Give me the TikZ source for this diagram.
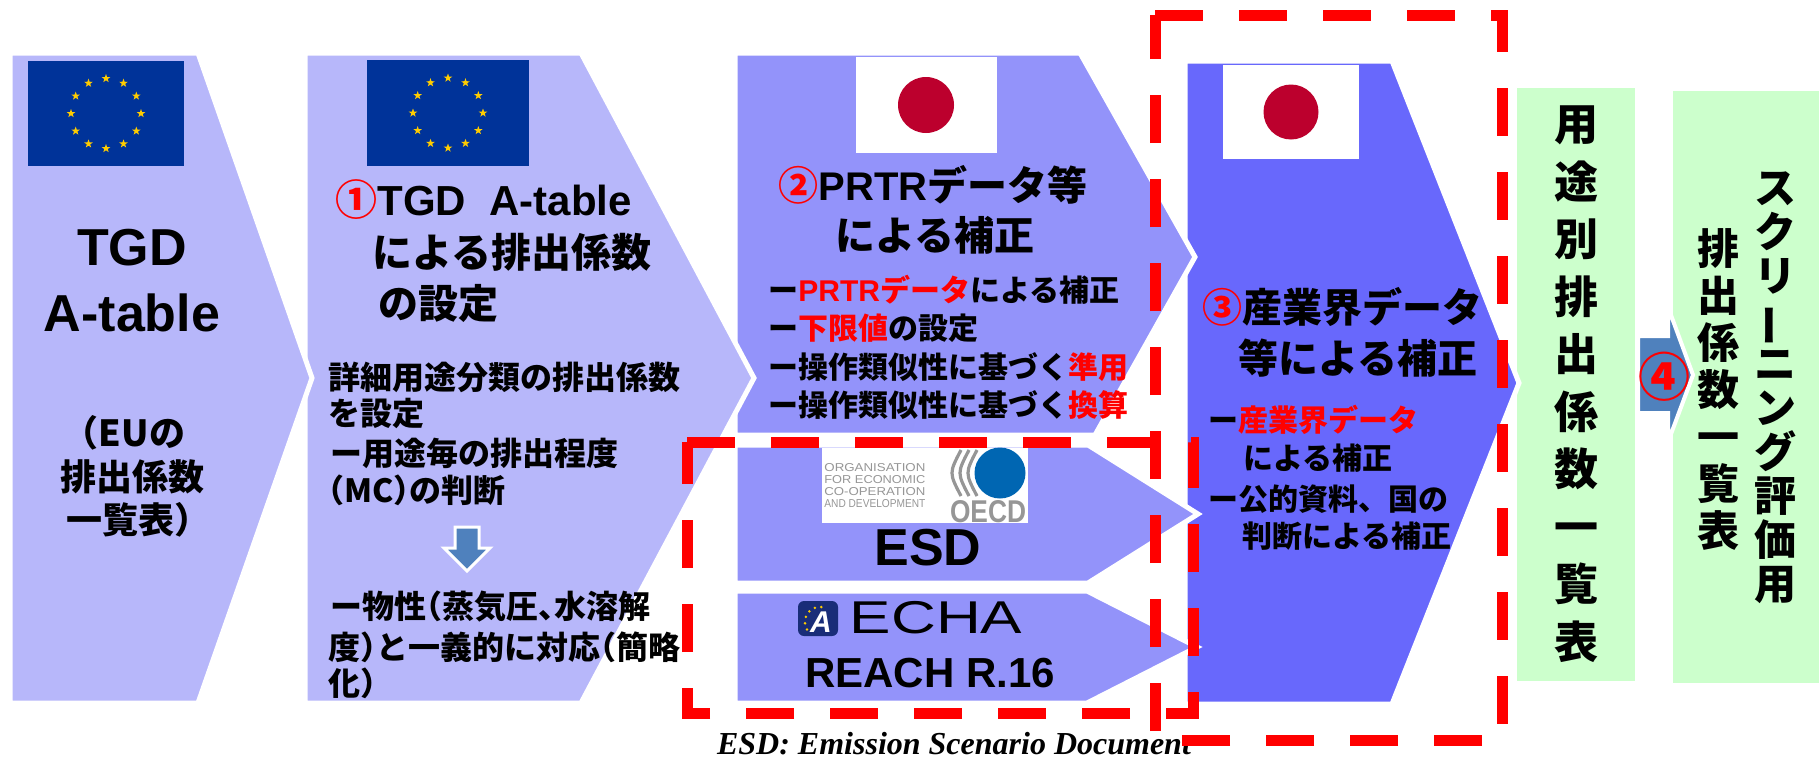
\documentclass[tikz,border=0pt]{standalone}
\usepackage{graphicx}
\usepackage{fontspec}
\setmainfont{Liberation Sans}
\newfontfamily\jp{Noto Sans CJK JP}[BoldFont={Noto Sans CJK JP Black}]
\newfontfamily\lat{Liberation Sans}
\newfontfamily\capfont{Liberation Serif}
\usetikzlibrary{shapes.geometric}

\definecolor{lavA}{RGB}{183,183,250}
\definecolor{lavB}{RGB}{147,147,250}
\definecolor{lavC}{RGB}{104,104,252}
\definecolor{mint}{RGB}{204,255,204}
\definecolor{eublue}{RGB}{0,51,153}
\definecolor{eugold}{RGB}{255,204,0}
\definecolor{jpred}{RGB}{188,0,45}
\definecolor{arrblue}{RGB}{79,129,189}
\definecolor{oecdblue}{RGB}{0,102,178}
\definecolor{oecdgray}{RGB}{150,150,150}
\definecolor{echanavy}{RGB}{25,45,120}
\definecolor{hlred}{RGB}{255,0,0}

\newcommand{\hl}[1]{\textcolor{hlred}{#1}}
\newcommand{\tatebar}{\rotatebox[origin=c]{90}{ー}}
\newcommand{\halfpunct}{\addfontfeature{RawFeature=+halt}}

\tikzset{
	chevA/.style={fill=lavA, draw=white, line width=2.5pt},
	chevB/.style={fill=lavB, draw=white, line width=2.5pt},
	chevC/.style={fill=lavC, draw=white, line width=2.5pt},
	stepfour/.style={fill=arrblue, draw=white, line width=2pt},
	redbox/.style={draw=hlred, line width=5.5pt, dash pattern=on 24pt off 18pt},
	eustar/.style={star, star points=5, star point ratio=2.5, fill=eugold, inner sep=0pt, minimum size=4.5pt},
	bigtxt/.style={font=\lat\bfseries\fontsize{26}{30}\selectfont, inner sep=0pt},
	reachtxt/.style={font=\lat\bfseries\fontsize{21}{25}\selectfont, inner sep=0pt},
	midtxt/.style={font=\jp\bfseries\fontsize{18}{21}\selectfont, inner sep=0pt},
	headtxt/.style={font=\jp\bfseries\fontsize{20}{24}\selectfont, inner sep=0pt},
	bodytxt/.style={font=\jp\bfseries\fontsize{16}{19}\selectfont\halfpunct, inner sep=0pt, anchor=west},
	itemtxt/.style={font=\jp\bfseries\fontsize{15}{18}\selectfont, inner sep=0pt, anchor=west},
	oecdtxt/.style={font=\lat, text=oecdgray, inner sep=0pt, anchor=west},
	vcol/.style={align=center, inner sep=0pt}
}

\begin{document}
\begin{tikzpicture}[x=0.5pt,y=-0.5pt]
	\useasboundingbox (0,0) rectangle (1819,760);
	%Coordinates
	\coordinate      (eu1) 	at 	(106,113.5);
	\coordinate      (eu2) 	at 	(448,113);
	\coordinate      (jp1) 	at 	(926,105);
	\coordinate      (jp2) 	at 	(1291,112);
	\coordinate      (oecd) 	at 	(1000,473);

	%Green boxes and arrow 4
	\fill[mint] (1673,91) rectangle (1819,683);
	\fill[mint] (1517,88) rectangle (1635,681);
	\filldraw[stepfour] (1638,336) -- (1668,336) -- (1668,307) -- (1693,375) -- (1668,442) -- (1668,413) -- (1638,413) -- cycle;

	%Chevrons
	\filldraw[chevC] (1185,61) -- (1392,61) -- (1519,383) -- (1392,704) -- (1185,704) -- cycle;
	\filldraw[chevB] (735,53) -- (1080,53) -- (1195,257) -- (1095,435) -- (735,435) -- cycle;
	\filldraw[chevB] (735,445) -- (1088,445) -- (1198,514) -- (1088,583) -- (735,583) -- cycle;
	\filldraw[chevB] (735,591) -- (1087,591) -- (1197,647) -- (1087,703) -- (735,703) -- cycle;
	\filldraw[chevA] (305,53) -- (581,53) -- (754,378) -- (581,703) -- (305,703) -- cycle;
	\filldraw[chevA] (10,53) -- (198,53) -- (312,378) -- (198,703) -- (10,703) -- cycle;

	%Flags
	\fill[eublue] (28,61) rectangle (184,166);
	\fill[eublue] (367,60) rectangle (529,166);
	\foreach \a in {0,30,...,330}{
		\node[eustar] at ([shift={(\a:35)}]eu1) {};
		\node[eustar] at ([shift={(\a:35)}]eu2) {};
	}
	\fill[white] (856,57) rectangle (997,153);
	\fill[jpred] (jp1) circle (28);
	\fill[white] (1223,65) rectangle (1359,159);
	\fill[jpred] (jp2) circle (27.5);

	%Down arrow
	\filldraw[fill=arrblue, draw=white, line width=1.5pt] (455,527) -- (479,527) -- (479,548) -- (490,548) -- (467,571) -- (444,548) -- (455,548) -- cycle;

	%OECD logo
	\fill[white] (822,448) rectangle (1028,523);
	\node[oecdtxt] (o1) at (824,468) {\resizebox{50.5pt}{4pt}{ORGANISATION}};
	\node[oecdtxt] (o2) at (824,480) {\resizebox{50.5pt}{4pt}{FOR ECONOMIC}};
	\node[oecdtxt] (o3) at (824,492) {\resizebox{50.5pt}{4pt}{CO-OPERATION}};
	\node[oecdtxt] (o4) at (824,504) {\resizebox{50.5pt}{4pt}{AND DEVELOPMENT}};
	\foreach \x in {956,964,972}
		\draw[oecdgray, line width=1.6pt] (\x+5,450) .. controls (\x-7,473) .. (\x+5,496);
	\fill[oecdblue] (oecd) circle (25.5);
	\node[oecdtxt, font=\lat\bfseries, anchor=center] (o5) at (988,512) {\resizebox{38pt}{11pt}{OECD}};

	%ECHA logo
	\fill[echanavy, rounded corners=3pt] (798,601) rectangle (838,636);
	\foreach \a in {150,175,200,225,250,275}
		\fill[eugold] ([shift={(\a:15)}]820,622) circle (1.4);
	\node[font=\lat\bfseries\itshape\fontsize{15}{15}\selectfont, text=white, inner sep=0pt] (echaA) at (821,622) {A};
	\node[font=\lat\fontsize{23}{23}\selectfont, inner sep=0pt] (echa) at (936,618) {\scalebox{1.35}[1]{ECHA}};

	%Text
	\node[bigtxt] (tgd) at (132,248) {TGD};
	\node[bigtxt] (atab) at (132,313) {A-table};
	\node[midtxt] (eulist1) at (124,433) {（EUの};
	\node[midtxt] (eulist2) at (132,477) {排出係数};
	\node[midtxt] (eulist3) at (138,520) {一覧表）};

	\node[headtxt, anchor=west, font=\jp\bfseries\fontsize{21}{24}\selectfont] (h1a) at (335,200) {\hl{①}{\lat TGD\ \ A-table}};
	\node[headtxt, anchor=west] (h1b) at (372,252) {による排出係数};
	\node[headtxt, anchor=west] (h1c) at (378,303) {の設定};
	\node[bodytxt] (b1a) at (328,377) {詳細用途分類の排出係数};
	\node[bodytxt] (b1b) at (328,413) {を設定};
	\node[bodytxt] (b1c) at (330,453) {ー用途毎の排出程度};
	\node[bodytxt] (b1d) at (328,490) {（MC）の判断};
	\node[bodytxt] (b1e) at (330,607) {ー物性（蒸気圧、水溶解};
	\node[bodytxt] (b1f) at (328,647) {度）と一義的に対応（簡略};
	\node[bodytxt] (b1g) at (328,683) {化）};

	\node[headtxt] (h2a) at (933,185) {\hl{②}{\lat PRTR}データ等};
	\node[headtxt] (h2b) at (935,235) {による補正};
	\node[itemtxt] (i2a) at (768,290) {ー\hl{{\lat PRTR}データ}による補正};
	\node[itemtxt] (i2b) at (768,328) {ー\hl{下限値}の設定};
	\node[itemtxt] (i2c) at (768,367) {ー操作類似性に基づく\hl{準用}};
	\node[itemtxt] (i2d) at (768,405) {ー操作類似性に基づく\hl{換算}};

	\node[bigtxt] (esd) at (928,548) {ESD};
	\node[reachtxt] (reach) at (930,673) {REACH R.16};

	\node[headtxt] (h3a) at (1342,307) {\hl{③}産業界データ};
	\node[headtxt] (h3b) at (1358,358) {等による補正};
	\node[itemtxt] (i3a) at (1208,420) {ー\hl{産業界データ}};
	\node[itemtxt] (i3b) at (1243,458) {による補正};
	\node[itemtxt] (i3c) at (1208,499) {ー公的資料、国の};
	\node[itemtxt] (i3d) at (1242,536) {判断による補正};

	\node[vcol, font=\jp\bfseries\fontsize{22}{28.75}\selectfont] (uselist) at (1576,384) {用\\途\\別\\排\\出\\係\\数\\一\\覧\\表};
	\node[vcol, font=\jp\bfseries\fontsize{21}{23.5}\selectfont] (scrlistB) at (1718,389) {排\\出\\係\\数\\一\\覧\\表};
	\node[vcol, font=\jp\bfseries\fontsize{21}{22}\selectfont] (scrlistA) at (1775,388) {ス\\ク\\リ\\\tatebar\\ニ\\ン\\グ\\評\\価\\用};
	\node[font=\jp\bfseries\fontsize{26}{26}\selectfont, text=hlred, inner sep=0pt] (four) at (1664,377) {④};

	\node[font=\capfont\bfseries\itshape\fontsize{16}{16}\selectfont, anchor=base, inner sep=0pt] (caption) at (954,754) {ESD: Emission Scenario Document};

	%Dashed frames
	\draw[redbox] (687,442) -- (1193,442) -- (1193,713) -- (687,713) -- cycle;
	\draw[redbox] (1155,15) -- (1502,15) -- (1502,740) -- (1155,740) -- cycle;
\end{tikzpicture}
\end{document}
